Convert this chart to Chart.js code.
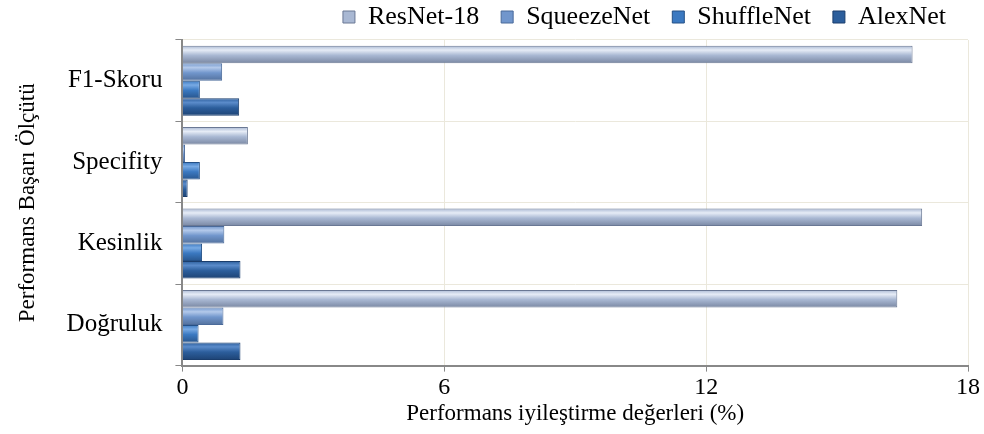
<!DOCTYPE html>
<html>
<head>
<meta charset="utf-8">
<script src="https://cdn.jsdelivr.net/npm/chart.js@4"></script>
<style>
  html, body { margin: 0; padding: 0; background: #fff; }
  #wrap { width: 984px; height: 434px; }
</style>
</head>
<body>
<div id="wrap"><canvas id="chart"></canvas></div>
<script>
// kategoriler (yukaridan asagiya)
const categories = ['F1-Skoru', 'Specifity', 'Kesinlik', 'Doğruluk'];
const resnet18 = [16.73, 1.50, 16.95, 16.38];
const squeezenet = [0.91, 0.06, 0.96, 0.94];
const shufflenet = [0.40, 0.40, 0.45, 0.37];
const alexnet = [1.30, 0.12, 1.33, 1.33];
const xTicks = [0, 6, 12, 18];

const font = 'Liberation Serif';

// ust, orta, alt tonlar (3B cubuk gorunumu icin)
const shades = [
  ['#e6ecf6', '#a9b8d3', '#7a88a3'],
  ['#b3c9ea', '#7196cc', '#53719d'],
  ['#78aae4', '#3b79c1', '#28568e'],
  ['#5a8bca', '#2c5e9c', '#1d4374']
];

const shadePlugin = {
  id: 'shade',
  beforeDatasetsDraw(chart) {
    chart.data.datasets.forEach((ds, i) => {
      const meta = chart.getDatasetMeta(i);
      meta.data.forEach(el => {
        const top = el.y - el.height / 2;
        const g = chart.ctx.createLinearGradient(0, top, 0, top + el.height);
        g.addColorStop(0, shades[i][1]);
        g.addColorStop(0.25, shades[i][0]);
        g.addColorStop(0.55, shades[i][1]);
        g.addColorStop(1, shades[i][2]);
        el.options = Object.assign({}, el.options, { backgroundColor: g });
      });
    });
  }
};

const ctx = document.getElementById('chart').getContext('2d');
new Chart(ctx, {
  type: 'bar',
  data: {
    labels: categories,
    datasets: [
      { label: 'ResNet-18', data: resnet18, backgroundColor: '#a9b8d3', borderColor: '#6a7894', borderWidth: 1 },
      { label: 'SqueezeNet', data: squeezenet, backgroundColor: '#7196cc', borderColor: '#4a6a9a', borderWidth: 1 },
      { label: 'ShuffleNet', data: shufflenet, backgroundColor: '#3b79c1', borderColor: '#245086', borderWidth: 1 },
      { label: 'AlexNet', data: alexnet, backgroundColor: '#2c5e9c', borderColor: '#1a3d6c', borderWidth: 1 }
    ]
  },
  plugins: [shadePlugin],
  options: {
    indexAxis: 'y',
    responsive: true,
    maintainAspectRatio: false,
    animation: false,
    categoryPercentage: 0.86,
    barPercentage: 1.0,
    layout: { padding: { left: 10, right: 16, top: -18, bottom: 6 } },
    scales: {
      x: {
        min: 0,
        max: 18,
        afterBuildTicks: (axis) => { axis.ticks = xTicks.map(v => ({ value: v })); },
        grid: { color: '#ebe8dc', tickColor: '#888', tickLength: 6 },
        border: { color: '#888', width: 2 },
        ticks: { color: '#000', font: { family: font, size: 24 }, padding: 2 },
        title: { display: true, text: 'Performans iyileştirme değerleri (%)', color: '#000', font: { family: font, size: 23 }, padding: { top: -4, bottom: 0 } }
      },
      y: {
        grid: { offset: true, color: '#ebe8dc', tickColor: '#888', tickLength: 7 },
        border: { color: '#888', width: 2 },
        ticks: { color: '#000', font: { family: font, size: 25 }, padding: 13 },
        title: { display: true, text: 'Performans Başarı Ölçütü', color: '#000', font: { family: font, size: 23 }, padding: { bottom: 12 } }
      }
    },
    plugins: {
      legend: {
        align: 'end',
        labels: { color: '#000', font: { family: font, size: 26 }, boxWidth: 12, boxHeight: 12, padding: 22 }
      },
      tooltip: { enabled: false }
    }
  }
});
</script>
</body>
</html>
